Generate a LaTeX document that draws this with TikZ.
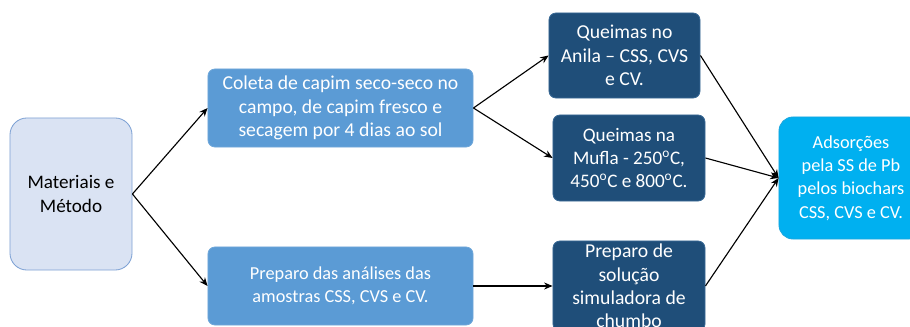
\documentclass[tikz,border=0pt]{standalone}
\usepackage{fontspec}
\setmainfont{Carlito}
\usetikzlibrary{arrows.meta,positioning}
\definecolor{mtPale}  {HTML}{DAE3F3}
\definecolor{mtPaleLn}{HTML}{7DA1D4}
\definecolor{mtMid}   {HTML}{5B9BD5}
\definecolor{mtMidLn} {HTML}{6FA7DA}
\definecolor{mtDeep}  {HTML}{1F4E79}
\definecolor{mtDeepLn}{HTML}{3A6A96}
\definecolor{mtCyan}  {HTML}{00B0F0}
\definecolor{mtCyanLn}{HTML}{1CA6DE}

\begin{document}
\begin{tikzpicture}[x=0.025cm,y=-0.025cm,
      font=\fontsize{13}{16.6}\selectfont,
      big/.style={font=\fontsize{14}{16.6}\selectfont},
      box/.style={draw,rounded corners=5pt,align=center,line width=0.6pt,
                  inner sep=0pt,text=white},
      flow/.style={-{Stealth[length=6pt,width=5pt]},line width=0.8pt,black}]

    \useasboundingbox (0,0) rectangle (910,327);
    \clip (0,0) rectangle (910,327);

    % start
    \node[box,draw=mtPaleLn,fill=mtPale,text=black,rounded corners=12pt,
          font=\fontsize{13.6}{16.6}\selectfont,
          minimum width=3.05cm,minimum height=3.8cm] (mat) at (71,194)
          {Materiais e\\Método};

    % middle column
    \node[box,big,draw=mtMidLn,fill=mtMid,minimum width=6.625cm,minimum height=1.95cm]
          (coleta) at (340.5,108) {Coleta de capim seco-seco no\\campo, de capim fresco e\\secagem por 4 dias ao sol};
    \node[box,draw=mtMidLn,fill=mtMid,minimum width=6.625cm,minimum height=1.95cm]
          (analise) at (340.5,286) {Preparo das análises das\\amostras CSS, CVS e CV.};

    % burns and solution
    \node[box,big,draw=mtDeepLn,fill=mtDeep,minimum width=3.775cm,minimum height=2.125cm]
          (anila) at (624.5,55.5) {Queimas no\\Anila – CSS, CVS\\e CV.};
    \node[box,draw=mtDeepLn,fill=mtDeep,font=\fontsize{13.6}{16.6}\selectfont,
          minimum width=3.8cm,minimum height=2.15cm]
          (mufla) at (629,158) {Queimas na\\Mufla - 250\textsuperscript{o}C,\\450\textsuperscript{o}C e 800\textsuperscript{o}C.};
    \node[box,big,draw=mtDeepLn,fill=mtDeep,minimum width=3.8cm,minimum height=2.25cm]
          (solucao) at (629,286) {Preparo de\\solução\\simuladora de\\chumbo};

    % end
    \node[box,draw=mtCyanLn,fill=mtCyan,rounded corners=10pt,
          minimum width=3.6cm,minimum height=3.05cm] (adsorcao) at (851,178)
          {Adsorções\\pela SS de Pb\\pelos biochars\\CSS, CVS e CV.};

    \foreach \a/\b in {mat/coleta,mat/analise,coleta/anila,coleta/mufla,
                       analise/solucao,anila/adsorcao,mufla/adsorcao,solucao/adsorcao}
      \draw[flow] (\a.east) -- (\b.west);
  \end{tikzpicture}
\end{document}
